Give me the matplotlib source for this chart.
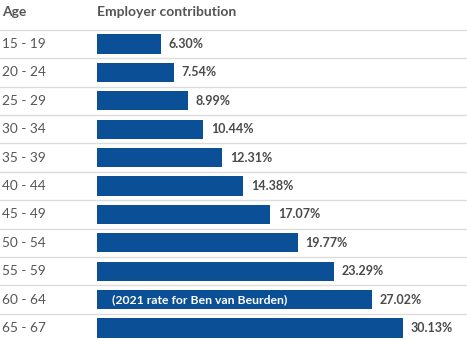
import matplotlib

matplotlib.use("Agg")
import matplotlib.pyplot as plt
import numpy as np

ages = ["15 - 19", "20 - 24", "25 - 29", "30 - 34", "35 - 39", "40 - 44",
        "45 - 49", "50 - 54", "55 - 59", "60 - 64", "65 - 67"]
contribution = [6.30, 7.54, 8.99, 10.44, 12.31, 14.38, 17.07, 19.77, 23.29, 27.02, 30.13]
note_row = "60 - 64"
note_text = "(2021 rate for Ben van Beurden)"

BAR = "#0b4f96"
TXT = "#555555"
GRID = "#dcdcdc"

plt.rcParams["font.family"] = ["Lato", "DejaVu Sans"]

W, H = 467, 340
fig = plt.figure(figsize=(W / 100, H / 100), dpi=100)
ax = fig.add_axes([0, 0, 1, 1])

# pixel-based scales: 0% sits at x=97px, first row centred at y=44px
px_per_pct = 10.16
row_px = 28.4
top_px = 44
x0_px = 97

ax.set_xlim(-x0_px / px_per_pct, (W - x0_px) / px_per_pct)
ylo = -top_px / row_px
ax.set_ylim(ylo + H / row_px, ylo)
ax.axis("off")

y = np.arange(len(ages))
ax.barh(y, contribution, height=0.67, color=BAR, zorder=2)

for i in y:
    ax.axhline(i - 0.5, color=GRID, linewidth=1, zorder=1)

left = -(x0_px - 2) / px_per_pct
for i, (a, v) in enumerate(zip(ages, contribution)):
    ax.text(left, i, a, va="center", ha="left", fontsize=9.8, color=TXT)
    ax.annotate(f"{v:.2f}%", xy=(v, i), xytext=(5.5, 0), textcoords="offset points",
                va="center", ha="left", fontsize=9, fontweight="bold", color="#4a4a4a")
    if a == note_row:
        ax.text(1.5, i, note_text, va="center", ha="left", fontsize=8.8,
                fontweight="bold", color="white", zorder=3)

hy = ylo + 12 / row_px
ax.text(left, hy, "Age", va="center", ha="left", fontsize=10, fontweight="bold", color=TXT)
ax.text(0, hy, "Employer contribution", va="center", ha="left", fontsize=10,
        fontweight="bold", color=TXT)

fig.savefig("out.png", dpi=100)
